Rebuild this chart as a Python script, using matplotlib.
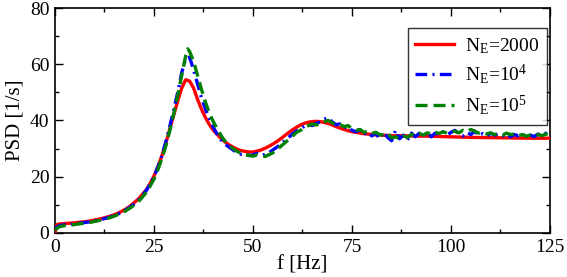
import matplotlib
matplotlib.use("Agg")
import matplotlib.pyplot as plt
from matplotlib.ticker import MultipleLocator

plt.rcParams["font.family"] = ["Liberation Serif", "DejaVu Serif"]
plt.rcParams["mathtext.fontset"] = "custom"
plt.rcParams["mathtext.rm"] = "Liberation Serif"
plt.rcParams["mathtext.it"] = "Liberation Serif"

# ---- data ----
f_red = [0, 0.5, 1, 2, 3, 4, 5, 6, 7, 8, 9, 10, 11, 12, 13, 14, 15, 16, 17, 18, 19,
         20, 21, 22, 23, 24, 25, 26, 27, 28, 29, 30, 31, 32, 33, 34, 35, 36, 37, 38,
         39, 40, 41, 42, 43, 44, 45, 46, 47, 48, 49, 50, 51, 52, 53, 54, 55, 56, 57,
         58, 59, 60, 61, 62, 63, 64, 65, 66, 67, 68, 69, 70, 71, 72, 73, 74, 75, 78,
         81, 85, 90, 95, 100, 105, 110, 115, 120, 125]
psd_red = [0, 3.0, 3.2, 3.3, 3.4, 3.5, 3.6, 3.8, 3.9, 4.1, 4.3, 4.6, 4.9, 5.2, 5.6,
           6.0, 6.5, 7.1, 7.8, 8.6, 9.6, 10.8, 12.0, 13.6, 15.3, 17.5, 20.3, 23.6,
           27.5, 32.0, 37.0, 42.0, 47.0, 51.5, 54.5, 54.0, 51.5, 47.5, 44.0, 41.0,
           38.5, 36.5, 35.0, 33.5, 32.3, 31.3, 30.5, 29.8, 29.3, 29.0, 28.8, 28.8,
           29.1, 29.5, 30.1, 30.8, 31.6, 32.5, 33.5, 34.6, 35.7, 36.7, 37.6, 38.4,
           39.0, 39.4, 39.6, 39.7, 39.6, 39.3, 38.9, 38.4, 37.8, 37.3, 36.8, 36.4,
           36.0, 35.3, 34.9, 34.6, 34.5, 34.4, 34.2, 34.0, 33.9, 33.8, 33.7, 33.7]

f_blue = list(range(0, 126))
psd_blue = [1.5, 2.6, 2.8, 3.0, 3.1, 3.3, 3.4, 3.6, 3.8, 4.0, 4.3, 4.6, 4.9, 5.3,
            5.7, 6.2, 6.8, 7.5, 8.3, 9.2, 10.3, 11.6, 13.2, 15.0, 17.3, 20.0, 23.5,
            27.5, 32.5, 38.0, 44.0, 50.0, 57.0, 62.0, 62.5, 58.0, 53.0, 48.0, 44.0,
            40.5, 37.5, 35.0, 33.0, 31.5, 30.5, 29.5, 28.5, 28.0, 28.2, 27.5, 27.8,
            28.3, 27.6, 27.9, 28.5, 29.5, 30.5, 31.5, 32.8, 34.0, 35.2, 36.3, 37.0,
            38.0, 38.5, 38.2, 39.0, 39.5, 40.5, 41.0, 39.5, 38.5, 38.8, 37.5, 37.8,
            36.5, 36.0, 36.8, 35.2, 35.8, 34.5, 35.5, 33.5, 35.8, 34.0, 32.8, 36.5,
            33.5, 34.8, 33.0, 35.5, 34.2, 35.5, 34.5, 35.8, 34.2, 35.5, 35.0, 36.0,
            34.8, 35.8, 36.5, 35.2, 34.5, 35.8, 35.0, 36.2, 34.6, 35.3, 34.4, 35.5,
            34.8, 35.2, 34.5, 35.4, 34.2, 35.0, 34.6, 35.3, 34.2, 34.8, 34.3, 35.2,
            34.5, 35.5, 34.6]

f_green = sorted(list(range(0, 126)) + [33.5])
psd_green = [1.0, 2.2, 2.5, 2.7, 2.8, 3.0, 3.2, 3.4, 3.6, 3.8, 4.1, 4.4, 4.7, 5.1,
             5.5, 6.0, 6.6, 7.2, 8.0, 8.9, 9.9, 11.1, 12.6, 14.4, 16.6, 19.2, 22.5,
             26.5, 31.0, 36.5, 42.5, 49.0, 56.0, 63.0, 65.5, 64.5, 61.0, 56.0, 51.0,
             46.5, 42.5, 39.5, 37.0, 34.5, 32.5, 31.0, 30.0, 29.0, 28.3, 27.8, 27.6,
             27.3, 27.8, 27.4, 27.2, 27.8, 28.5, 29.5, 30.8, 32.0, 33.2, 34.5, 35.8,
             36.5, 37.5, 38.2, 38.8, 38.4, 39.2, 39.6, 40.0, 39.2, 38.2, 38.5, 37.8,
             38.2, 37.0, 36.5, 36.8, 35.8, 36.2, 35.4, 35.8, 35.0, 34.8, 35.5, 33.8,
             34.2, 33.4, 34.5, 34.0, 35.0, 34.6, 35.4, 34.8, 35.6, 35.2, 35.8, 35.4,
             36.0, 35.5, 35.8, 36.2, 35.6, 36.5, 36.0, 36.8, 36.2, 35.5, 35.8, 35.2,
             35.6, 35.0, 35.4, 34.8, 35.5, 35.0, 35.2, 34.6, 35.0, 34.4, 34.8, 34.5,
             35.0, 34.6, 35.2, 34.8]

labels = [r"N$_\mathrm{E}$=2000", r"N$_\mathrm{E}$=10$^4$", r"N$_\mathrm{E}$=10$^5$"]

fig = plt.figure(figsize=(5.67, 2.77), dpi=100)
ax = fig.add_axes([0.097, 0.159, 0.873, 0.812])

lw = 2.4
ax.plot(f_red, psd_red, color="#ff0000", lw=lw, label=labels[0], zorder=3)
ax.plot(f_blue, psd_blue, color="#0000ff", lw=lw, linestyle=(0, (3.5, 1.6, 0.6, 1.6)),
        label=labels[1], zorder=4)
ax.plot(f_green, psd_green, color="#008000", lw=lw, linestyle=(0, (3.6, 1.8)),
        label=labels[2], zorder=5)

ax.set_xlim(0, 125)
ax.set_ylim(0, 80)
ax.xaxis.set_major_locator(MultipleLocator(25))
ax.xaxis.set_minor_locator(MultipleLocator(12.5))
ax.yaxis.set_major_locator(MultipleLocator(20))
ax.yaxis.set_minor_locator(MultipleLocator(10))
ax.tick_params(which="both", direction="in", top=True, right=True, labelsize=14,
               width=1.0, pad=4)
ax.tick_params(which="major", length=6)
ax.tick_params(which="minor", length=3)
for s in ax.spines.values():
    s.set_linewidth(1.2)

ax.set_xlabel("f [Hz]", fontsize=15, labelpad=0)
ax.set_ylabel("PSD [1/s]", fontsize=15, labelpad=4)

leg = ax.legend(loc="upper right", bbox_to_anchor=(0.994, 0.911), fontsize=14,
                frameon=True, fancybox=False, handlelength=2.0, handletextpad=0.55,
                borderpad=0.4, labelspacing=0.35, borderaxespad=0)
leg.get_frame().set_edgecolor("black")
leg.get_frame().set_linewidth(1.0)

fig.savefig("out.png", dpi=100)
